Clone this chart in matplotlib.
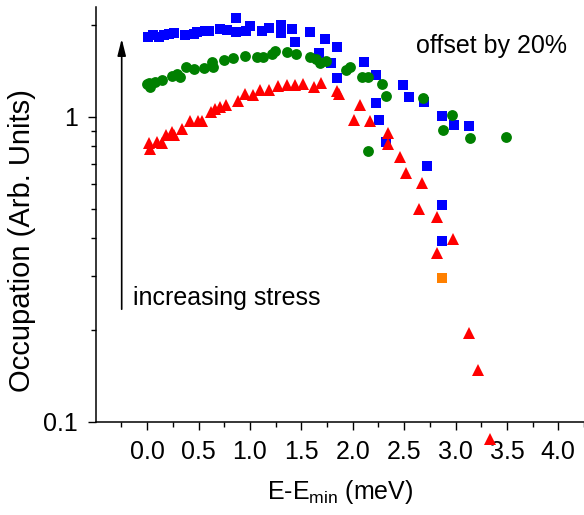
import numpy as np
import matplotlib
matplotlib.use("Agg")
import matplotlib.pyplot as plt
from matplotlib.ticker import FixedLocator, FuncFormatter, NullFormatter

plt.rcParams['font.family'] = ['Liberation Sans', 'DejaVu Sans']

# occupation vs energy above minimum, three stress values (offset by 20%)
blue_x = [0.006, 0.058, 0.113, 0.161, 0.21, 0.259, 0.373, 0.453, 0.489, 0.567,
          0.599, 0.713, 0.778, 0.869, 0.869, 0.961, 1.005, 1.117, 1.183, 1.306,
          1.302, 1.413, 1.443, 1.589, 1.673, 1.734, 1.793, 1.848, 1.848, 2.107,
          2.228, 2.228, 2.26, 2.328, 2.488, 2.545, 2.691, 2.724, 2.87, 2.87,
          2.87, 2.989, 3.132]
blue_y = [1.829, 1.849, 1.832, 1.846, 1.860, 1.877, 1.853, 1.867, 1.895, 1.903,
          1.914, 1.934, 1.919, 2.102, 1.900, 1.907, 1.983, 1.912, 1.949, 1.991,
          1.877, 1.940, 1.764, 1.891, 1.614, 1.797, 1.497, 1.689, 1.336, 1.515,
          1.370, 1.111, 0.975, 0.828, 1.266, 1.163, 1.120, 0.689, 1.005, 0.513,
          0.392, 0.939, 0.932]

orange_x = [2.87]
orange_y = [0.295]

green_x = [0.0, 0.016, 0.032, 0.081, 0.146, 0.243, 0.295, 0.319, 0.382, 0.46,
           0.551, 0.632, 0.64, 0.752, 0.837, 0.951, 1.066, 1.131, 1.216, 1.248,
           1.362, 1.449, 1.589, 1.647, 1.679, 1.742, 1.939, 1.975, 2.09, 2.148,
           2.146, 2.284, 2.321, 2.681, 2.879, 2.967, 3.145, 3.495]
green_y = [1.28, 1.287, 1.248, 1.302, 1.319, 1.360, 1.380, 1.349, 1.450, 1.430,
           1.441, 1.515, 1.455, 1.540, 1.552, 1.578, 1.564, 1.564, 1.605, 1.646,
           1.626, 1.603, 1.573, 1.548, 1.503, 1.520, 1.419, 1.455, 1.353, 1.346,
           0.772, 1.283, 1.172, 1.154, 0.904, 1.013, 0.853, 0.860]

red_x = [0.016, 0.032, 0.093, 0.149, 0.183, 0.243, 0.266, 0.340, 0.416, 0.494,
         0.531, 0.62, 0.66, 0.713, 0.771, 0.888, 0.948, 1.034, 1.095, 1.183,
         1.275, 1.362, 1.443, 1.518, 1.625, 1.689, 1.846, 1.871, 2.075, 2.017,
         2.165, 2.340, 2.340, 2.464, 2.522, 2.675, 2.642, 2.821, 2.973, 2.821,
         3.128, 3.216, 3.333]
red_y = [0.820, 0.786, 0.823, 0.818, 0.868, 0.893, 0.871, 0.908, 0.970, 0.966,
         0.970, 1.036, 1.060, 1.073, 1.092, 1.124, 1.189, 1.182, 1.223, 1.223,
         1.261, 1.270, 1.270, 1.280, 1.248, 1.287, 1.211, 1.187, 1.092, 0.979,
         0.968, 0.882, 0.814, 0.736, 0.652, 0.605, 0.497, 0.468, 0.396, 0.357,
         0.195, 0.148, 0.0876]

x_ticks = [0.0, 0.5, 1.0, 1.5, 2.0, 2.5, 3.0, 3.5, 4.0]

fig = plt.figure(figsize=(5.84, 5.15), dpi=100)
ax = fig.add_axes([0.1639, 0.1812, 0.8361, 0.8052])

ax.plot(blue_x, blue_y, 's', color='#0000ff', ms=7.2, mew=0, clip_on=False)
ax.plot(orange_x, orange_y, 's', color='#ff8000', ms=7.2, mew=0, clip_on=False)
ax.plot(green_x, green_y, 'o', color='#008000', ms=7.8, mew=0, clip_on=False)
ax.plot(red_x, red_y, '^', color='#ff0000', ms=8.5, mew=0, clip_on=False)

ax.set_yscale('log')
ax.set_xlim(-0.5, 4.25)
ax.set_ylim(0.1, 2.289)

ax.xaxis.set_major_locator(FixedLocator(x_ticks))
ax.xaxis.set_minor_locator(FixedLocator([-0.25] + [t + 0.25 for t in x_ticks]))
ax.xaxis.set_major_formatter(FuncFormatter(lambda v, p: '%.1f' % v))
ax.yaxis.set_major_locator(FixedLocator([0.1, 1]))
ax.yaxis.set_minor_locator(FixedLocator([0.2, 0.3, 0.4, 0.5, 0.6, 0.7, 0.8, 0.9, 2]))
ax.yaxis.set_major_formatter(FuncFormatter(lambda v, p: '%g' % v))
ax.yaxis.set_minor_formatter(NullFormatter())

for side in ['top', 'right']:
    ax.spines[side].set_visible(False)
for side in ['left', 'bottom']:
    ax.spines[side].set_linewidth(1.1)
ax.tick_params(which='major', length=6, width=1.0, labelsize=18, pad=7)
ax.tick_params(which='minor', length=3.6, width=1.0)

ax.set_xlabel('E-E$_{\\mathregular{min}}$ (meV)', fontsize=18, labelpad=10)
fig.text(0.0377, 0.532, 'Occupation (Arb. Units)', rotation=90,
         fontsize=21, ha='center', va='center')

# arrow showing direction of increasing stress
ax.annotate('', xy=(0.0532, 0.930), xytext=(0.0532, 0.2645),
            xycoords='axes fraction', textcoords='axes fraction',
            arrowprops=dict(arrowstyle='-|>,head_length=1.0,head_width=0.25',
                            color='black', lw=1.2))
ax.text(0.0764, 0.281, 'increasing stress', transform=ax.transAxes,
        fontsize=18, ha='left', va='baseline')
ax.text(0.655, 0.889, 'offset by 20%', transform=ax.transAxes,
        fontsize=18, ha='left', va='baseline')

fig.savefig('out.png', dpi=100)
